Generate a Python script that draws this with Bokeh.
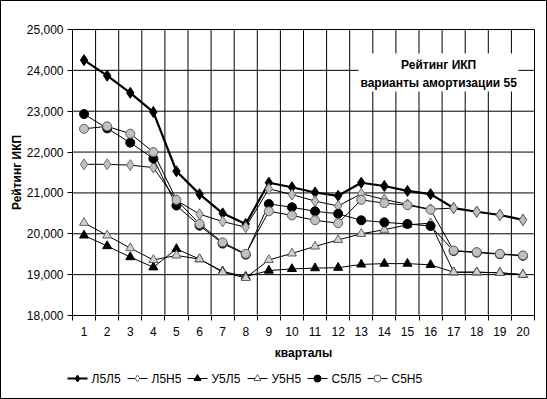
from bokeh.plotting import figure
from bokeh.layouts import column
from bokeh.core.properties import value
from bokeh.models import (FixedTicker, NumeralTickFormatter, BoxAnnotation,
                          Label, Range1d)
from bokeh.embed import file_html
from bokeh.resources import INLINE

quarters = list(range(1, 21))
tick_labels = [str(q) for q in quarters]
y_ticks = [18000, 19000, 20000, 21000, 22000, 23000, 24000, 25000]

L5L5 = [24250, 23870, 23450, 22980, 21530, 20970, 20500, 20240, 21250, 21140,
        21010, 20930, 21250, 21170, 21050, 20970, 20630, 20540, 20460, 20340]
L5N5 = [21700, 21700, 21680, 21620, 20820, 20480, 20300, 20160, 21100, 20960,
        20800, 20680, 20980, 20840, 20720, 20600, 20630, 20540, 20460, 20340]
U5L5 = [19960, 19700, 19430, 19180, 19630, 19380, 19080, 18950, 19100, 19140,
        19160, 19170, 19250, 19270, 19270, 19240, 19060, 19060, 19045, 19000]
U5N5 = [20270, 19960, 19650, 19360, 19470, 19380, 19060, 18920, 19360, 19520,
        19690, 19850, 20000, 20100, 20220, 20260, 19060, 19060, 19045, 19000]
S5L5 = [22930, 22580, 22230, 21840, 20690, 20200, 19760, 19490, 20730, 20650,
        20550, 20490, 20330, 20280, 20240, 20190, 19580, 19540, 19500, 19460]
S5N5 = [22570, 22630, 22450, 22000, 20830, 20240, 19790, 19510, 20550, 20450,
        20330, 20260, 20830, 20750, 20700, 20590, 19590, 19550, 19510, 19470]

series = [
    ("Л5Л5", L5L5, "diamond", "black", "black", 2.2, 11),
    ("Л5Н5", L5N5, "diamond", "#c0c0c0", "#707070", 1, 11),
    ("У5Л5", U5L5, "triangle", "black", "black", 1, 9),
    ("У5Н5", U5N5, "triangle", "#d0d0d0", "#606060", 1, 9),
    ("С5Л5", S5L5, "circle", "black", "black", 1, 9),
    ("С5Н5", S5N5, "circle", "#c0c0c0", "#606060", 1, 9),
]
legend_fill = ["black", "white", "black", "white", "black", "white"]

FONT = "Liberation Sans"

boundaries = [q - 0.5 for q in quarters] + [quarters[-1] + 0.5]

W, H = 545, 362
BL, BR, BT, BB = 71, 12, 28, 48
FRAME_W, FRAME_H = W - BL - BR, H - BT - BB

p = figure(width=W, height=H, output_backend="svg", toolbar_location=None,
           x_range=Range1d(boundaries[0], boundaries[-1]),
           y_range=Range1d(y_ticks[0], y_ticks[-1]),
           min_border_left=BL, min_border_right=BR, min_border_top=BT,
           min_border_bottom=BB, background_fill_color="white",
           border_fill_color="white", outline_line_color="black")

p.xgrid.grid_line_color = None
p.ygrid.grid_line_color = None

# interior gridlines, stopping a fraction of a pixel short of the frame
# edges (the edges themselves are drawn by the frame outline)
lo, hi = y_ticks[0], y_ticks[-1]
left, right = boundaries[0], boundaries[-1]
dy = 0.6 * (hi - lo) / FRAME_H
dx = 0.6 * (right - left) / FRAME_W
inner_b = boundaries[1:-1]
inner_t = y_ticks[1:-1]
p.multi_line(xs=[[b, b] for b in inner_b],
             ys=[[lo + dy, hi - dy] for _ in inner_b],
             line_color="black", line_width=1)
p.multi_line(xs=[[left + dx, right - dx] for _ in inner_t],
             ys=[[t, t] for t in inner_t],
             line_color="black", line_width=1)

# x axis: labels at quarter centres, ticks at boundaries
p.xaxis.ticker = FixedTicker(ticks=quarters, minor_ticks=boundaries)
p.xaxis.major_label_overrides = {q: l for q, l in zip(quarters, tick_labels)}
p.xaxis.major_tick_line_color = None
p.xaxis.major_tick_out = 0
p.xaxis.major_tick_in = 0
p.xaxis.minor_tick_out = 5
p.xaxis.minor_tick_in = 0
p.xaxis.minor_tick_line_color = "black"
p.xaxis.major_label_standoff = 6
p.xaxis.axis_label = "кварталы"
p.xaxis.axis_label_standoff = 7

# y axis
p.yaxis.ticker = FixedTicker(ticks=y_ticks)
p.yaxis.formatter = NumeralTickFormatter(format="0,0")
p.yaxis.major_tick_out = 5
p.yaxis.major_tick_in = 0
p.yaxis.minor_tick_line_color = None
p.yaxis.major_label_standoff = 4
p.yaxis.axis_label = "Рейтинг ИКП"
p.yaxis.axis_label_standoff = 0

for ax in (p.xaxis, p.yaxis):
    ax.axis_line_color = "black"
    ax.major_label_text_font = FONT
    ax.major_label_text_font_size = "9pt"
    ax.major_label_text_color = "black"
    ax.axis_label_text_font = FONT
    ax.axis_label_text_font_size = "9pt"
    ax.axis_label_text_font_style = "bold"
    ax.axis_label_text_color = "black"

# data drawn above the gridlines
for name, vals, marker, fill, outline, lw, size in series:
    p.line(quarters, vals, line_color="black", line_width=lw)
    p.scatter(quarters, vals, marker=marker, size=size,
              fill_color=fill, line_color=outline, line_width=1)

# title box (covers the gridlines behind it)
box = BoxAnnotation(left=12.88, right=19.8, bottom=23480, top=24410,
                    fill_color="white", fill_alpha=1, line_color=None)
p.add_layout(box)
p.add_layout(Label(x=16.35, y=24119, text="Рейтинг ИКП", text_align="center",
                   text_baseline="middle", text_font=FONT, text_font_size="9pt",
                   text_font_style="bold", text_color="black"))
p.add_layout(Label(x=16.35, y=23700, text="варианты амортизации 55",
                   text_align="center", text_baseline="middle", text_font=FONT,
                   text_font_size="9pt", text_font_style="bold",
                   text_color="black"))

# legend strip below the chart (data units = pixels)
LG_W, LG_H = 545, 35
lg = figure(width=LG_W, height=LG_H, output_backend="svg",
            toolbar_location=None, x_axis_location=None,
            y_axis_location=None, min_border=0, outline_line_color=None,
            border_fill_color="white", background_fill_color="white",
            x_range=Range1d(0, LG_W), y_range=Range1d(0, LG_H))
if "frame_align" in lg.properties():
    lg.frame_align = False
lg.xgrid.grid_line_color = None
lg.ygrid.grid_line_color = None

LEG_X0, LEG_STEP, LEG_Y = 66, 60, 20
for i, (name, vals, marker, fill, outline, lw, size) in enumerate(series):
    x0 = LEG_X0 + i * LEG_STEP
    lg.hbar(y=[LEG_Y], left=[x0], right=[x0 + 20], height=lw,
            fill_color="black", line_color=None)
    lg.scatter([x0 + 10], [LEG_Y], marker=marker, size=7,
               fill_color=legend_fill[i], line_color=outline, line_width=1)
    lg.text([x0 + 24], [LEG_Y], text=[name], text_align="left",
            text_baseline="middle", text_font=value(FONT),
            text_font_size="9pt", text_color="black")

root = column(p, lg, spacing=0, styles={"border": "1px solid black"})
open("out.html", "w").write(file_html(root, INLINE))
